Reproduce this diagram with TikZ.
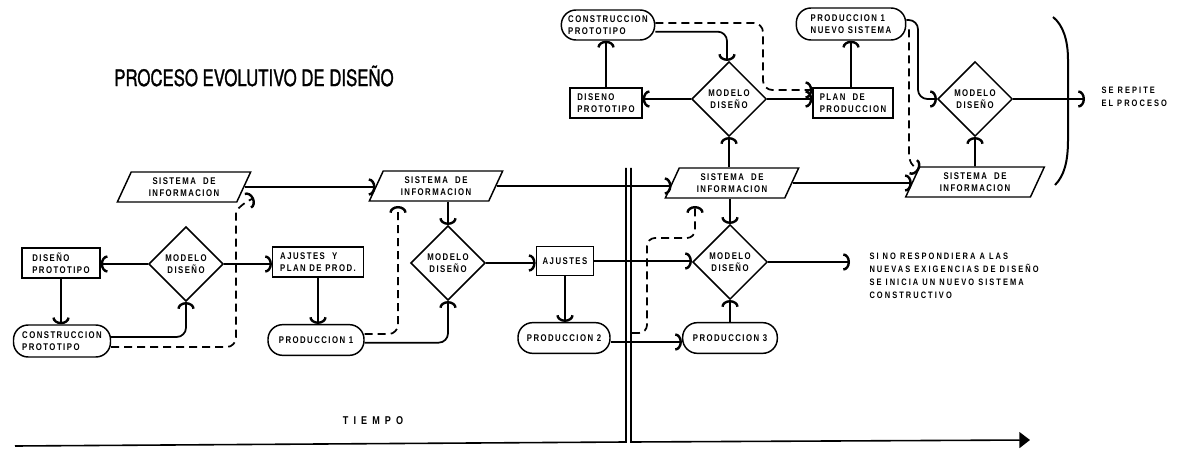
\documentclass[tikz,border=0pt]{standalone}
\usepackage{fontspec}
\usetikzlibrary{arrows.meta,shapes.geometric}
\newfontfamily\boxfont[FakeStretch=0.8,LetterSpace=15]{Liberation Sans}
\newfontfamily\titlefont[FakeStretch=0.74]{TeX Gyre Heros}

\tikzset{every picture/.style={line width=0.75pt}}
\tikzset{
  lbl/.style={font=\boxfont\bfseries\fontsize{7.3}{8.8}\selectfont, inner sep=0.75pt, align=left},
  box/.style={lbl, draw, line width=1.1pt, minimum width=58.5pt, minimum height=22.5pt},
  pill/.style={lbl, draw, line width=1.1pt, rounded corners=11pt, minimum width=72pt, minimum height=23pt},
  rombo/.style={lbl, draw, line width=1.1pt, diamond, aspect=1, minimum width=56pt, minimum height=56pt, inner sep=0pt, align=center},
  datos/.style={lbl, draw, line width=1.1pt, trapezium, trapezium left angle=56, trapezium right angle=124, trapezium stretches body, minimum width=100pt, minimum height=22.5pt, align=center},
  nota/.style={lbl, font=\boxfont\bfseries\addfontfeature{LetterSpace=22}\fontsize{7}{9.75}\selectfont, anchor=west},
  flecha/.style={line width=1.3pt, -{Arc Barb[length=5pt,width=13pt,line width=1.8pt]}},
  guia/.style={flecha, line width=1.3pt, dash pattern=on 6pt off 3.75pt}
}

\begin{document}
\begin{tikzpicture}[x=0.75pt,y=0.75pt,yscale=-1,xscale=1]
\useasboundingbox (0,0) rectangle (1181,452);

% Text Node
\node (titulo) at (254,76) {\titlefont\fontsize{17}{20}\selectfont\addfontfeature{FakeBold=1.2} PROCESO EVOLUTIVO DE DISEÑO};
% Text Node
\node [box] (dp1) at (61,263) {DISEÑO\\PROTOTIPO};
% Text Node
\node [rombo] (md1) at (186,264) {MODELO\\DISEÑO};
% Text Node
\node [pill, minimum width=72.75pt, minimum height=24pt] (cp1) at (62,341) {CONSTRUCCION\\PROTOTIPO};
% Text Node
\node [datos] (si1) at (184,187) {SISTEMA\ \ DE\\INFORMACION};
% Text Node
\node [box, minimum width=68pt] (ap1) at (318,262) {AJUSTES\ \ Y\\PLAN DE PROD.};
% Text Node
\node [pill] (pr1) at (316,340) {PRODUCCION 1};
% Text Node
\node [datos] (si2) at (436,186) {SISTEMA\ \ DE\\INFORMACION};
% Text Node
\node [rombo] (md2) at (448,263) {MODELO\\DISEÑO};
% Text Node
\node [box, minimum width=43pt, minimum height=22pt] (aj2) at (565,261) {AJUSTES};
% Text Node
\node [pill, minimum width=69pt] (pr2) at (564,338) {PRODUCCION 2};
% Text Node
\node [datos] (si3) at (732,183) {SISTEMA\ \ DE\\INFORMACION};
% Text Node
\node [rombo] (md3) at (730,262) {MODELO\\DISEÑO};
% Text Node
\node [pill, minimum width=71pt] (pr3) at (730,338) {PRODUCCION 3};
% Text Node
\node [nota] (aviso) at (868,276) {SI NO RESPONDIERA A LAS\\NUEVAS EXIGENCIAS DE DISEÑO\\SE INICIA UN NUEVO SISTEMA\\CONSTRUCTIVO};
% Text Node
\node [datos, minimum width=104pt] (si4) at (975,182) {SISTEMA\ \ DE\\INFORMACION};
% Text Node
\node [rombo] (md4) at (975,99) {MODELO\\DISEÑO};
% Text Node
\node [nota] (repite) at (1100,97) {SE REPITE\\EL PROCESO};
% Text Node
\node [pill, minimum width=70pt, minimum height=22.5pt] (cp2) at (608,25) {CONSTRUCCION\\PROTOTIPO};
% Text Node
\node [box, minimum width=54pt] (dp2) at (606,103) {DISENO\\PROTOTIPO};
% Text Node
\node [rombo] (md5) at (729,99) {MODELO\\DISEÑO};
% Text Node
\node [box, minimum width=60pt] (pl5) at (853,103) {PLAN\ \ DE\\PRODUCCION};
% Text Node
\node [pill, minimum width=82pt, minimum height=24pt] (pn5) at (851,24) {PRODUCCION 1\\NUEVO SISTEMA};
% Text Node
\node [lbl, font=\boxfont\bfseries\addfontfeature{LetterSpace=45}\fontsize{8.5}{10}\selectfont] (tiempo) at (373,421) {TIEMPO};

% Free ends
\coordinate (f1) at (254,198);
\coordinate (f2) at (398,206);
\coordinate (g0) at (632,333);
\coordinate (f3) at (695,206);
\coordinate (f4) at (850,262);
\coordinate (f5) at (919,170);
\coordinate (f6) at (1085,99);

% Connection
\draw [flecha] (md1.west) -- (md1.west -| dp1.east);
\draw [flecha] (dp1.south) -- (dp1.south |- cp1.north);
\draw [flecha, rounded corners=7pt] ([yshift=-3pt]cp1.east) -| (md1.south);
\draw [guia, rounded corners=7pt] ([yshift=4.5pt]cp1.east) -| (236,222) .. controls (236,210) and (243,203) .. (f1);
\draw [flecha] (md1.east) -- (md1.east -| ap1.west);
\draw [flecha] (ap1.south) -- (ap1.south |- pr1.north);
\draw [flecha] (si1.east) -- (si1.east -| si2.west);
% Connection
\draw [guia, rounded corners=7pt] ([yshift=-4.5pt]pr1.east) -| (f2);
\draw [flecha, rounded corners=7pt] ([yshift=2pt]pr1.east) -| (md2.south);
\draw [flecha] (md2.north |- si2.south) -- (md2.north);
\draw [flecha] (md2.east) -- (md2.east -| aj2.west);
\draw [flecha] (aj2.south) -- (aj2.south |- pr2.north);
\draw [flecha] (aj2.east) -- (aj2.east -| md3.west);
\draw [flecha] ([yshift=3pt]pr2.east) -- ([yshift=3pt]pr2.east -| pr3.west);
\draw [guia, rounded corners=6pt] (g0) -| (647,238) -| (f3);
\draw [flecha] (si2.east) -- (si2.east -| si3.west);
% Connection
\draw [flecha] (md3.north |- si3.south) -- (md3.north);
\draw [flecha] (pr3.north) -- (md3.south);
\draw [flecha] (md3.east) -- (f4);
\draw [flecha] (si3.east) -- (si3.east -| si4.west);
\draw [flecha] (md5.south |- si3.north) -- (md5.south);
% Connection
\draw [flecha] (md5.west) -- (md5.west -| dp2.east);
\draw [flecha] (dp2.north) -- (dp2.north |- cp2.south);
\draw [flecha, rounded corners=7pt] ([yshift=5pt]cp2.east) -| ([xshift=-1.5pt]md5.north);
\draw [guia, rounded corners=7pt] ([yshift=-1.5pt]cp2.east) -| (763,90) -- ([yshift=-9.75pt]pl5.west);
\draw [flecha] (md5.east) -- (md5.east -| pl5.west);
\draw [flecha] (pl5.north -| pn5.south) -- (pn5.south);
% Connection
\draw [flecha, rounded corners=7pt] ([yshift=-3pt]pn5.east) -| (918,99) -- (md4.west);
\draw [guia] ([xshift=2pt,yshift=4pt]pn5.east) -- (909,152) .. controls (909,162) and (912,166) .. (f5);
\draw [flecha] (si4.north) -- (md4.south);
\draw [flecha] (md4.east) -- (f6);

% Bracket
\draw [line width=1.5pt] (1053,17) .. controls (1063,25) and (1068,40) .. (1068,60) -- (1068,140) .. controls (1068,162) and (1064,176) .. (1055,185);

% Time axis
\draw [line width=1.2pt] (15,446) -- (626,442) -- (626,168);
\draw [line width=1.2pt, -{Triangle[length=8pt,width=12pt]}] (631,168) -- (631,442) -- (1030,440);

\end{tikzpicture}
\end{document}
